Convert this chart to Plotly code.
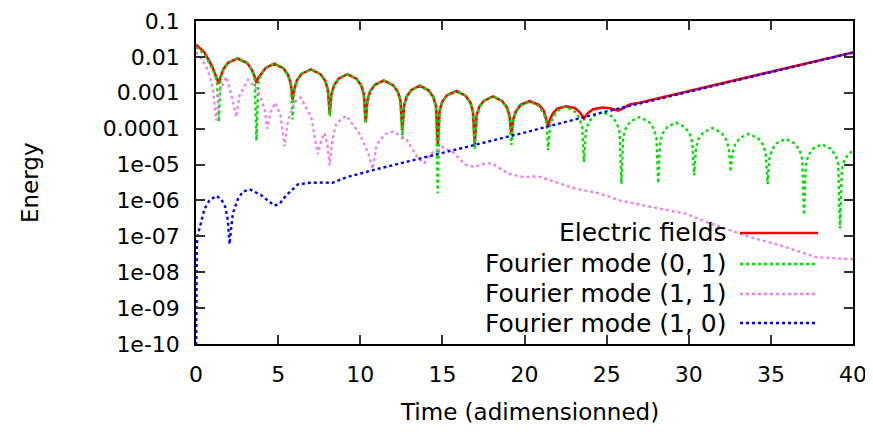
import plotly.graph_objects as go

# ---------------- data ----------------
t_field = [0.0, 0.5, 1.0, 1.17, 1.28, 1.39, 1.50, 1.66, 1.95, 2.52, 3.12, 3.41, 3.57, 3.68, 3.79, 3.95,
           4.24, 4.75, 5.32, 5.61, 5.77, 5.88, 5.99, 6.15, 6.44, 7.0, 7.58, 7.87, 8.03, 8.14, 8.25, 8.41,
           8.70, 9.22, 9.77, 10.06, 10.22, 10.33, 10.44, 10.60, 10.89, 11.43, 12.0, 12.29, 12.45, 12.56,
           12.67, 12.83, 13.12, 13.62, 14.16, 14.45, 14.61, 14.72, 14.83, 14.99, 15.28, 15.85, 16.41,
           16.70, 16.86, 16.97, 17.08, 17.24, 17.53, 18.08, 18.64, 18.93, 19.09, 19.2, 19.31, 19.47, 19.76,
           20.3, 20.88, 21.17, 21.33, 21.44, 21.55, 21.71, 22.0, 22.5, 23.06, 23.35, 23.51, 23.62, 23.73,
           23.89, 24.18, 24.75, 25.2, 25.5, 25.7, 26.0, 26.4, 27.0, 28.0, 30.0, 32.5, 36.0, 40.0]
e_field = [2.2e-2, 1.37e-2, 5.2e-3, 3.4e-3, 2.4e-3, 1.8e-3, 2.8e-3, 4.5e-3, 6.8e-3, 9.0e-3, 6.7e-3, 4.3e-3,
           2.8e-3, 1.9e-3, 2.6e-3, 3.3e-3, 4.9e-3, 6.5e-3, 4.8e-3, 3.1e-3, 1.8e-3, 6.5e-4, 1.3e-3, 2.25e-3,
           3.4e-3, 4.5e-3, 3.3e-3, 2.15e-3, 1.2e-3, 2.6e-4, 9.3e-4, 1.65e-3, 2.5e-3, 3.3e-3, 2.45e-3, 1.6e-3,
           8.9e-4, 1.5e-4, 6.2e-4, 1.1e-3, 1.67e-3, 2.2e-3, 1.63e-3, 1.06e-3, 5.9e-4, 9.0e-5, 4.4e-4, 7.9e-4,
           1.2e-3, 1.58e-3, 1.17e-3, 7.6e-4, 4.3e-4, 3.7e-5, 3.1e-4, 5.6e-4, 8.5e-4, 1.12e-3, 8.3e-4, 5.4e-4,
           3.0e-4, 3.6e-5, 2.3e-4, 4.0e-4, 6.0e-4, 7.9e-4, 5.9e-4, 3.9e-4, 2.3e-4, 6.6e-5, 1.8e-4, 3.0e-4,
           4.6e-4, 5.8e-4, 4.6e-4, 3.2e-4, 1.9e-4, 1.17e-4, 1.8e-4, 2.6e-4, 3.6e-4, 4.2e-4, 3.8e-4, 2.9e-4,
           2.3e-4, 1.9e-4, 2.3e-4, 2.8e-4, 3.5e-4, 3.9e-4, 3.7e-4, 3.35e-4, 3.2e-4, 3.7e-4, 4.7e-4, 5.3e-4,
           6.8e-4, 1.12e-3, 2.05e-3, 4.85e-3, 1.33e-2]

t_mode01 = [0.0, 0.5, 1.0, 1.17, 1.28, 1.39, 1.50, 1.66, 1.95, 2.52, 3.12, 3.41, 3.57, 3.68, 3.79, 3.95,
            4.24, 4.75, 5.32, 5.61, 5.77, 5.88, 5.99, 6.15, 6.44, 7.0, 7.58, 7.87, 8.03, 8.14, 8.25, 8.41,
            8.70, 9.22, 9.77, 10.06, 10.22, 10.33, 10.44, 10.60, 10.89, 11.43, 12.0, 12.29, 12.45, 12.56,
            12.67, 12.83, 13.12, 13.62, 14.16, 14.45, 14.61, 14.72, 14.83, 14.99, 15.28, 15.85, 16.41,
            16.70, 16.86, 16.97, 17.08, 17.24, 17.53, 18.08, 18.64, 18.93, 19.09, 19.2, 19.31, 19.47, 19.76,
            20.3, 20.88, 21.17, 21.33, 21.44, 21.55, 21.71, 22.0, 22.5, 23.06, 23.35, 23.51, 23.62, 23.73,
            23.89, 24.18, 24.75, 25.34, 25.63, 25.79, 25.9, 26.01, 26.17, 26.46, 27.0, 27.58, 27.87, 28.03,
            28.14, 28.25, 28.41, 28.70, 29.22, 29.77, 30.06, 30.22, 30.33, 30.44, 30.60, 30.89, 31.45, 31.99,
            32.28, 32.44, 32.55, 32.66, 32.82, 33.11, 33.66, 34.24, 34.53, 34.69, 34.8, 34.91, 35.07, 35.36,
            35.9, 36.46, 36.75, 36.91, 37.02, 37.13, 37.29, 37.58, 38.1, 38.65, 38.94, 39.10, 39.21, 39.32,
            39.48, 39.77, 40.0]
e_mode01 = [1.9e-2, 1.2e-2, 4.6e-3, 3.0e-3, 2.0e-3, 1.55e-4, 2.5e-3, 4.5e-3, 6.8e-3, 9.0e-3, 6.7e-3, 4.3e-3,
            2.4e-3, 4.6e-5, 1.8e-3, 3.25e-3, 4.9e-3, 6.5e-3, 4.8e-3, 3.1e-3, 1.75e-3, 1.8e-4, 1.26e-3,
            2.25e-3, 3.4e-3, 4.5e-3, 3.3e-3, 2.15e-3, 1.2e-3, 2.2e-4, 9.2e-4, 1.65e-3, 2.5e-3, 3.3e-3,
            2.45e-3, 1.6e-3, 8.9e-4, 1.4e-4, 6.2e-4, 1.1e-3, 1.67e-3, 2.2e-3, 1.63e-3, 1.06e-3, 5.9e-4,
            5.2e-5, 4.4e-4, 7.9e-4, 1.2e-3, 1.58e-3, 1.17e-3, 7.6e-4, 4.3e-4, 1.6e-6, 3.1e-4, 5.6e-4, 8.5e-4,
            1.12e-3, 8.3e-4, 5.4e-4, 3.0e-4, 2.6e-5, 2.2e-4, 3.95e-4, 6.0e-4, 7.9e-4, 5.85e-4, 3.8e-4, 2.1e-4,
            3.5e-5, 1.6e-4, 2.85e-4, 4.3e-4, 5.7e-4, 4.2e-4, 2.7e-4, 1.54e-4, 2.5e-5, 1.15e-4, 2.05e-4,
            3.1e-4, 4.1e-4, 3.0e-4, 1.97e-4, 1.1e-4, 1.17e-5, 8.1e-5, 1.45e-4, 2.2e-4, 2.9e-4, 2.15e-4,
            1.4e-4, 7.8e-5, 2.9e-6, 5.9e-5, 1.05e-4, 1.6e-4, 2.1e-4, 1.55e-4, 1.0e-4, 5.7e-5, 3.0e-6, 4.1e-5,
            7.4e-5, 1.12e-4, 1.48e-4, 1.1e-4, 7.1e-5, 4.0e-5, 5.0e-6, 2.9e-5, 5.2e-5, 7.9e-5, 1.04e-4, 7.7e-5,
            5.0e-5, 2.8e-5, 6.3e-6, 2.0e-5, 3.6e-5, 5.5e-5, 7.2e-5, 5.3e-5, 3.5e-5, 1.95e-5, 2.9e-6, 1.46e-5,
            2.6e-5, 3.95e-5, 5.2e-5, 3.85e-5, 2.5e-5, 1.4e-5, 3.9e-7, 1.04e-5, 1.85e-5, 2.8e-5, 3.7e-5,
            2.75e-5, 1.78e-5, 1.0e-5, 1.66e-7, 7.5e-6, 1.35e-5, 2.05e-5, 2.4e-5]

t_mode11 = [0.0, 0.32, 0.72, 1.02, 1.23, 1.43, 1.84, 2.14, 2.45, 2.65, 3.16, 3.77, 4.17, 4.34, 4.54, 4.83,
            5.15, 5.39, 5.6, 6.0, 6.37, 7.02, 7.41, 7.65, 7.83, 8.0, 8.14, 8.3, 8.54, 9.15, 9.96, 10.5, 10.75,
            11.0, 11.5, 12.0, 12.81, 13.5, 13.9, 14.3, 15.0, 15.6, 16.4, 16.97, 17.5, 17.99, 19.0, 19.9,
            20.83, 21.85, 23.07, 24.5, 25.8, 27.2, 28.65, 29.87, 31.09, 32.5, 33.7, 35.36, 36.78, 37.8, 40.0]
e_mode11 = [1.37e-2, 9.0e-3, 4.3e-3, 1.45e-3, 1.7e-4, 1.04e-3, 2.8e-3, 9.5e-4, 2.1e-4, 8.5e-4, 2.3e-3,
            1.17e-3, 3.6e-4, 1.0e-4, 2.9e-4, 5.3e-4, 2.3e-4, 3.2e-5, 1.7e-4, 5.5e-4, 7.4e-4, 2.1e-4, 1.95e-5,
            5.0e-5, 7.6e-5, 3.5e-5, 9.5e-6, 5.0e-5, 1.4e-4, 2.3e-4, 7.2e-5, 2.0e-5, 7.5e-6, 3.5e-5, 7.0e-5,
            8.3e-5, 5.2e-5, 1.5e-5, 1.1e-5, 2.0e-5, 3.1e-5, 2.3e-5, 1.0e-5, 8.5e-6, 1.05e-5, 1.1e-5, 5.6e-6,
            4.5e-6, 4.7e-6, 3.3e-6, 2.15e-6, 1.6e-6, 1.0e-6, 7.4e-7, 5.4e-7, 4.2e-7, 2.5e-7, 1.5e-7, 9.6e-8,
            6.0e-8, 3.7e-8, 2.6e-8, 2.3e-8]

t_mode10 = [0.0, 0.05, 0.11, 0.21, 0.36, 0.52, 0.82, 1.23, 1.53, 1.78, 1.94, 2.04, 2.14, 2.24, 2.55, 2.85,
            3.26, 3.97, 4.48, 4.78, 5.09, 5.5, 6.2, 6.92, 7.6, 8.3, 9.15, 10.77, 13.0, 16.67, 20.0, 24.9,
            28.0, 32.5, 36.0, 40.0]
e_mode10 = [2e-11, 6e-8, 1.07e-7, 1.66e-7, 3.5e-7, 5.9e-7, 1.0e-6, 1.35e-6, 1.1e-6, 6.6e-7, 2.8e-7, 6e-8,
            1.66e-7, 4.3e-7, 1.1e-6, 1.75e-6, 2.05e-6, 1.4e-6, 9.1e-7, 7.2e-7, 8.1e-7, 1.4e-6, 2.8e-6, 3.1e-6,
            3.15e-6, 3.1e-6, 4.4e-6, 7.0e-6, 1.25e-5, 3.2e-5, 7.8e-5, 2.95e-4, 6.5e-4, 2.0e-3, 4.8e-3, 1.32e-2]

series_names = ["Electric fields", "Fourier mode (0, 1)", "Fourier mode (1, 1)", "Fourier mode (1, 0)"]
series_colors = ["#ff0000", "#00e000", "#ee82ee", "#0000ff"]

x_ticks = [0, 5, 10, 15, 20, 25, 30, 35, 40]
y_ticks = [1e-1, 1e-2, 1e-3, 1e-4, 1e-5, 1e-6, 1e-7, 1e-8, 1e-9, 1e-10]
y_tick_labels = ["0.1", "0.01", "0.001", "0.0001", "1e-05", "1e-06", "1e-07", "1e-08", "1e-09", "1e-10"]

x_title = "Time (adimensionned)"
y_title = "Energy"

FONT = "DejaVu Sans"

# ---------------- figure ----------------
fig = go.Figure()
xs = [t_field, t_mode01, t_mode11, t_mode10]
ys = [e_field, e_mode01, e_mode11, e_mode10]
dashes = ["solid", "dot", "dot", "dot"]
widths = [2.6, 2.4, 2.4, 2.4]
for x, y, name, col, d, w in zip(xs, ys, series_names, series_colors, dashes, widths):
    fig.add_trace(go.Scatter(x=x, y=y, mode="lines", name=name,
                             line=dict(color=col, width=w, dash=d), showlegend=False))

axis_common = dict(showline=True, linecolor="black", linewidth=1.5, mirror="ticks",
                   ticks="inside", ticklen=9, tickwidth=1.5, tickcolor="#333333",
                   showgrid=False, zeroline=False, automargin=False,
                   tickfont=dict(family=FONT, size=22, color="black"))

fig.update_xaxes(range=[0, 40], tickvals=x_ticks, ticktext=[str(v) for v in x_ticks],
                 ticklabelstandoff=10, **axis_common)
fig.update_yaxes(type="log", range=[-10, -1], tickvals=y_ticks, ticktext=y_tick_labels,
                 ticklabelstandoff=10, **axis_common)

# custom gnuplot-style key (text right-aligned, sample to its right)
key_rows_y = [0.3437, 0.2477, 0.1548, 0.065]
annotations = []
shapes = []
for name, col, d, w, ky in zip(series_names, series_colors, dashes, widths, key_rows_y):
    annotations.append(dict(xref="paper", yref="paper", x=0.811, y=ky, text=name, showarrow=False,
                            xanchor="right", yanchor="middle",
                            font=dict(family=FONT, size=25, color="black")))
    shapes.append(dict(type="line", xref="paper", yref="paper", x0=0.828, x1=0.9467, y0=ky, y1=ky,
                       line=dict(color=col, width=w, dash=d)))

annotations.append(dict(xref="paper", yref="paper", x=0.508, y=-0.2105, text=x_title, showarrow=False,
                        xanchor="center", yanchor="middle", font=dict(family=FONT, size=23, color="black")))
annotations.append(dict(xref="paper", yref="paper", x=-0.2527, y=0.5015, text=y_title, showarrow=False,
                        textangle=-90, xanchor="center", yanchor="middle",
                        font=dict(family=FONT, size=23, color="black")))

# the page body adds an 8px offset, so the figure is 8px smaller and margins shifted accordingly
fig.update_layout(width=865, height=424, margin=dict(l=188, r=20, t=13, b=88),
                  paper_bgcolor="white", plot_bgcolor="white",
                  annotations=annotations, shapes=shapes, showlegend=False)

fig.write_html("out.html")
